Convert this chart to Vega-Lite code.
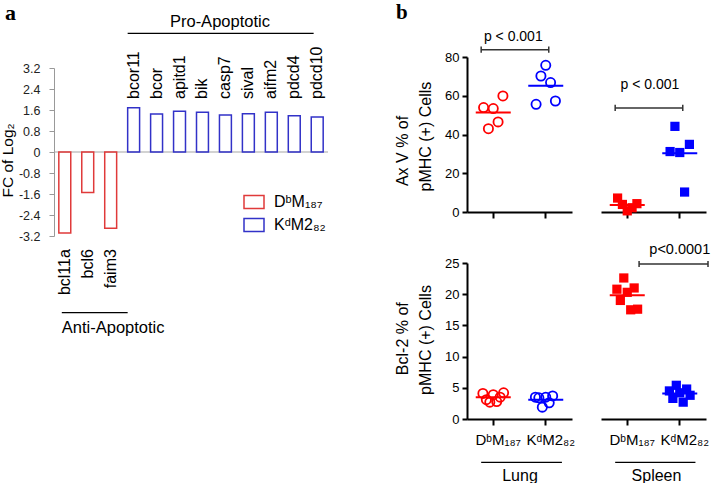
{
  "$schema": "https://vega.github.io/schema/vega-lite/v6.json",
  "background": "white",
  "padding": {"left": 0, "top": 2, "right": 0, "bottom": 0},
  "config": {
    "view": {"stroke": null},
    "axis": {"labelFont": "Liberation Sans", "titleFont": "Liberation Sans", "grid": false, "labelOverlap": false, "labelBound": false, "tickCount": 30},
    "legend": {"labelFont": "Liberation Sans"},
    "text": {"font": "Liberation Sans", "color": "black"}
  },
  "datasets": {
    "genes": [
      {"gene": "bcl11a", "fc": -3.09, "group": "DᵇM₁₈₇"},
      {"gene": "bcl6", "fc": -1.54, "group": "DᵇM₁₈₇"},
      {"gene": "faim3", "fc": -2.9, "group": "DᵇM₁₈₇"},
      {"gene": "bcor11", "fc": 1.69, "group": "KᵈM2₈₂"},
      {"gene": "bcor", "fc": 1.45, "group": "KᵈM2₈₂"},
      {"gene": "apitd1", "fc": 1.55, "group": "KᵈM2₈₂"},
      {"gene": "bik", "fc": 1.51, "group": "KᵈM2₈₂"},
      {"gene": "casp7", "fc": 1.41, "group": "KᵈM2₈₂"},
      {"gene": "sival", "fc": 1.46, "group": "KᵈM2₈₂"},
      {"gene": "aifm2", "fc": 1.51, "group": "KᵈM2₈₂"},
      {"gene": "pdcd4", "fc": 1.38, "group": "KᵈM2₈₂"},
      {"gene": "pdcd10", "fc": 1.33, "group": "KᵈM2₈₂"}
    ],
    "axv": [
      {"tissue": "Lung", "group": "DᵇM₁₈₇", "rep": 1, "value": 53.9},
      {"tissue": "Lung", "group": "DᵇM₁₈₇", "rep": 2, "value": 43.0},
      {"tissue": "Lung", "group": "DᵇM₁₈₇", "rep": 3, "value": 53.4},
      {"tissue": "Lung", "group": "DᵇM₁₈₇", "rep": 4, "value": 46.5},
      {"tissue": "Lung", "group": "DᵇM₁₈₇", "rep": 5, "value": 59.9},
      {"tissue": "Lung", "group": "KᵈM2₈₂", "rep": 1, "value": 55.6},
      {"tissue": "Lung", "group": "KᵈM2₈₂", "rep": 2, "value": 70.2},
      {"tissue": "Lung", "group": "KᵈM2₈₂", "rep": 3, "value": 75.7},
      {"tissue": "Lung", "group": "KᵈM2₈₂", "rep": 4, "value": 66.8},
      {"tissue": "Lung", "group": "KᵈM2₈₂", "rep": 5, "value": 57.3},
      {"tissue": "Spleen", "group": "DᵇM₁₈₇", "rep": 1, "value": 7.2},
      {"tissue": "Spleen", "group": "DᵇM₁₈₇", "rep": 2, "value": 3.9},
      {"tissue": "Spleen", "group": "DᵇM₁₈₇", "rep": 3, "value": 0.6},
      {"tissue": "Spleen", "group": "DᵇM₁₈₇", "rep": 4, "value": 2.2},
      {"tissue": "Spleen", "group": "DᵇM₁₈₇", "rep": 5, "value": 4.3},
      {"tissue": "Spleen", "group": "KᵈM2₈₂", "rep": 1, "value": 31.2},
      {"tissue": "Spleen", "group": "KᵈM2₈₂", "rep": 2, "value": 44.2},
      {"tissue": "Spleen", "group": "KᵈM2₈₂", "rep": 3, "value": 30.7},
      {"tissue": "Spleen", "group": "KᵈM2₈₂", "rep": 4, "value": 10.3},
      {"tissue": "Spleen", "group": "KᵈM2₈₂", "rep": 5, "value": 34.9}
    ],
    "bcl2": [
      {"tissue": "Lung", "group": "DᵇM₁₈₇", "rep": 1, "value": 4.1},
      {"tissue": "Lung", "group": "DᵇM₁₈₇", "rep": 2, "value": 3.1},
      {"tissue": "Lung", "group": "DᵇM₁₈₇", "rep": 3, "value": 2.7},
      {"tissue": "Lung", "group": "DᵇM₁₈₇", "rep": 4, "value": 3.9},
      {"tissue": "Lung", "group": "DᵇM₁₈₇", "rep": 5, "value": 2.8},
      {"tissue": "Lung", "group": "DᵇM₁₈₇", "rep": 6, "value": 3.5},
      {"tissue": "Lung", "group": "DᵇM₁₈₇", "rep": 7, "value": 4.2},
      {"tissue": "Lung", "group": "KᵈM2₈₂", "rep": 1, "value": 3.5},
      {"tissue": "Lung", "group": "KᵈM2₈₂", "rep": 2, "value": 3.4},
      {"tissue": "Lung", "group": "KᵈM2₈₂", "rep": 3, "value": 1.9},
      {"tissue": "Lung", "group": "KᵈM2₈₂", "rep": 4, "value": 3.5},
      {"tissue": "Lung", "group": "KᵈM2₈₂", "rep": 5, "value": 2.6},
      {"tissue": "Lung", "group": "KᵈM2₈₂", "rep": 6, "value": 3.7},
      {"tissue": "Spleen", "group": "DᵇM₁₈₇", "rep": 1, "value": 20.8},
      {"tissue": "Spleen", "group": "DᵇM₁₈₇", "rep": 2, "value": 19.0},
      {"tissue": "Spleen", "group": "DᵇM₁₈₇", "rep": 3, "value": 22.6},
      {"tissue": "Spleen", "group": "DᵇM₁₈₇", "rep": 4, "value": 20.3},
      {"tissue": "Spleen", "group": "DᵇM₁₈₇", "rep": 5, "value": 17.5},
      {"tissue": "Spleen", "group": "DᵇM₁₈₇", "rep": 6, "value": 21.0},
      {"tissue": "Spleen", "group": "DᵇM₁₈₇", "rep": 7, "value": 17.6},
      {"tissue": "Spleen", "group": "KᵈM2₈₂", "rep": 1, "value": 4.5},
      {"tissue": "Spleen", "group": "KᵈM2₈₂", "rep": 2, "value": 3.3},
      {"tissue": "Spleen", "group": "KᵈM2₈₂", "rep": 3, "value": 5.4},
      {"tissue": "Spleen", "group": "KᵈM2₈₂", "rep": 4, "value": 4.2},
      {"tissue": "Spleen", "group": "KᵈM2₈₂", "rep": 5, "value": 2.7},
      {"tissue": "Spleen", "group": "KᵈM2₈₂", "rep": 6, "value": 4.8},
      {"tissue": "Spleen", "group": "KᵈM2₈₂", "rep": 7, "value": 3.8}
    ]
  },
  "bounds": "flush",
  "columns": 3,
  "spacing": {"row": 27, "column": 29},
  "resolve": {"scale": {"x": "independent", "y": "independent", "color": "independent", "xOffset": "independent"}, "legend": {"color": "independent"}},
  "concat": [
    {
      "width": 274,
      "height": 179,
      "layer": [
        {
          "data": {"values": [{}]},
          "mark": {"type": "rule", "color": "#a6a6a6", "strokeWidth": 1.2},
          "encoding": {"y": {"datum": 0, "type": "quantitative"}}
        },
        {
          "data": {"name": "genes"},
          "mark": {"type": "bar", "filled": false, "strokeWidth": 1.5},
          "encoding": {
            "x": {"field": "gene", "type": "nominal", "sort": null,
              "scale": {"domain": ["bcl11a", "bcl6", "faim3", "bcor11", "bcor", "apitd1", "bik", "casp7", "sival", "aifm2", "pdcd4", "pdcd10"], "paddingInner": 0.48, "paddingOuter": 0.21},
              "axis": null},
            "y": {"field": "fc", "type": "quantitative",
              "scale": {"domain": [-3.2, 3.2], "range": [179, 11], "nice": false},
              "axis": {"values": [-3.2, -2.4, -1.6, -0.8, 0, 0.8, 1.6, 2.4, 3.2], "tickCount": 30, "labelOverlap": false,
                "labelExpr": "datum.value == 0 ? '0' : (datum.value < 0 ? '-' : '') + format(abs(datum.value), '.1f')",
                "title": "FC of Log₂", "titleFontSize": 15.5, "titleFontWeight": "normal", "titleColor": "black", "titlePadding": 3, "titleY": 103,
                "labelFontSize": 12.5, "labelColor": "#222222", "labelPadding": 9, "tickSize": 5, "tickColor": "#999999", "domainColor": "#999999"}},
            "color": {"field": "group", "type": "nominal",
              "scale": {"domain": ["DᵇM₁₈₇", "KᵈM2₈₂"], "range": ["#e03a3a", "#3232c8"]},
              "legend": {"orient": "none", "legendX": 189, "legendY": 134, "title": null, "padding": 0,
                "symbolType": "M-1,-0.65L1,-0.65L1,0.65L-1,0.65Z", "symbolSize": 400, "symbolStrokeWidth": 1.5,
                "labelFontSize": 16, "labelOffset": 9, "rowPadding": 2, "labelColor": "black"}}
          }
        },
        {
          "data": {"name": "genes"},
          "transform": [{"filter": "datum.fc > 0"}],
          "mark": {"type": "text", "angle": 270, "align": "left", "baseline": "middle", "fontSize": 16},
          "encoding": {"x": {"field": "gene", "type": "nominal", "sort": null}, "y": {"datum": 2.02, "type": "quantitative"}, "text": {"field": "gene"}}
        },
        {
          "data": {"name": "genes"},
          "transform": [{"filter": "datum.fc < 0"}],
          "mark": {"type": "text", "angle": 270, "align": "right", "baseline": "middle", "fontSize": 16},
          "encoding": {"x": {"field": "gene", "type": "nominal", "sort": null}, "y": {"datum": -3.7, "type": "quantitative"}, "text": {"field": "gene"}}
        },
        {
          "data": {"values": [{}]},
          "mark": {"type": "rule", "color": "black", "strokeWidth": 1.2},
          "encoding": {"x": {"datum": "bcor11", "type": "nominal", "bandPosition": 0}, "x2": {"datum": "pdcd10", "bandPosition": 0.2}, "y": {"datum": 4.52, "type": "quantitative"}}
        },
        {
          "data": {"values": [{"label": "Pro-Apoptotic"}]},
          "mark": {"type": "text", "align": "center", "baseline": "alphabetic", "fontSize": 16.5},
          "encoding": {"x": {"datum": "casp7", "type": "nominal", "bandPosition": 0.04}, "y": {"datum": 4.76, "type": "quantitative"}, "text": {"field": "label"}}
        },
        {
          "data": {"values": [{}]},
          "mark": {"type": "rule", "color": "black", "strokeWidth": 1.2},
          "encoding": {"x": {"datum": "bcl11a", "type": "nominal", "bandPosition": 0.25}, "x2": {"datum": "bcor11", "bandPosition": 0}, "y": {"datum": -6.12, "type": "quantitative"}}
        },
        {
          "data": {"values": [{"label": "Anti-Apoptotic"}]},
          "mark": {"type": "text", "align": "left", "baseline": "alphabetic", "fontSize": 16.5},
          "encoding": {"x": {"datum": "bcl11a", "type": "nominal", "bandPosition": 0.25}, "y": {"datum": -6.91, "type": "quantitative"}, "text": {"field": "label"}}
        },
        {
          "data": {"values": [{"label": "a"}]},
          "mark": {"type": "text", "align": "left", "baseline": "alphabetic", "fontSize": 22, "font": "Liberation Serif", "fontWeight": "bold"},
          "encoding": {"x": {"datum": "bcl11a", "type": "nominal", "bandPosition": -4.51}, "y": {"datum": 5.024, "type": "quantitative"}, "text": {"field": "label"}}
        }
      ]
    },
    {
      "width": 105,
      "height": 155,
      "layer": [
        {
          "data": {"name": "axv"},
          "transform": [{"filter": "datum.tissue == 'Lung'"}],
          "mark": {"type": "point", "shape": "circle", "filled": false, "size": 85, "strokeWidth": 1.8, "opacity": 1},
          "encoding": {
            "x": {"field": "group", "type": "nominal", "scale": {"domain": ["DᵇM₁₈₇", "KᵈM2₈₂"], "paddingInner": 0.54, "paddingOuter": 0.27},
              "axis": {"labels": false, "title": null, "domainColor": "black", "domainWidth": 2, "tickColor": "black", "tickWidth": 2, "tickSize": 6}},
            "xOffset": {"field": "rep", "type": "ordinal"},
            "y": {"field": "value", "type": "quantitative", "scale": {"domain": [0, 80], "nice": false},
              "axis": {"values": [0, 20, 40, 60, 80], "tickCount": 30, "title": null,
                "labelFontSize": 13, "labelColor": "black", "labelPadding": 3, "tickSize": 5, "tickWidth": 2, "tickColor": "black", "domainColor": "black", "domainWidth": 2}},
            "color": {"field": "group", "type": "nominal", "scale": {"domain": ["DᵇM₁₈₇", "KᵈM2₈₂"], "range": ["#ff0000", "#0000ff"]}, "legend": null}
          }
        },
        {
          "data": {"name": "axv"},
          "transform": [{"filter": "datum.tissue == 'Lung'"}],
          "mark": {"type": "tick", "size": 35, "thickness": 2, "opacity": 1},
          "encoding": {
            "x": {"field": "group", "type": "nominal"},
            "y": {"aggregate": "mean", "field": "value", "type": "quantitative"},
            "color": {"field": "group", "type": "nominal"}
          }
        },
        {
          "data": {"values": [{"label": "Ax V % of"}]},
          "mark": {"type": "text", "angle": 270, "align": "center", "baseline": "middle", "fontSize": 16},
          "encoding": {"x": {"datum": "DᵇM₁₈₇", "type": "nominal", "bandPosition": -3.24}, "y": {"datum": 31.5, "type": "quantitative"}, "text": {"field": "label"}}
        },
        {
          "data": {"values": [{"label": "pMHC (+) Cells"}]},
          "mark": {"type": "text", "angle": 270, "align": "center", "baseline": "middle", "fontSize": 16},
          "encoding": {"x": {"datum": "DᵇM₁₈₇", "type": "nominal", "bandPosition": -2.29}, "y": {"datum": 38.9, "type": "quantitative"}, "text": {"field": "label"}}
        },
        {
          "data": {"values": [{}]},
          "mark": {"type": "rule", "color": "#333333", "strokeWidth": 1.5},
          "encoding": {"x": {"datum": "DᵇM₁₈₇", "type": "nominal", "bandPosition": 0}, "x2": {"datum": "KᵈM2₈₂", "bandPosition": 0.625}, "y": {"datum": 83.8, "type": "quantitative"}}
        },
        {
          "data": {"values": [{}]},
          "mark": {"type": "rule", "color": "#333333", "strokeWidth": 1.5},
          "encoding": {"x": {"datum": "DᵇM₁₈₇", "type": "nominal", "bandPosition": 0}, "y": {"datum": 82.2, "type": "quantitative"}, "y2": {"datum": 85.4}}
        },
        {
          "data": {"values": [{}]},
          "mark": {"type": "rule", "color": "#333333", "strokeWidth": 1.5},
          "encoding": {"x": {"datum": "KᵈM2₈₂", "type": "nominal", "bandPosition": 0.625}, "y": {"datum": 82.2, "type": "quantitative"}, "y2": {"datum": 85.4}}
        },
        {
          "data": {"values": [{"label": "p < 0.001"}]},
          "mark": {"type": "text", "align": "center", "baseline": "alphabetic", "fontSize": 14},
          "encoding": {"x": {"datum": "DᵇM₁₈₇", "type": "nominal", "bandPosition": 1.33}, "y": {"datum": 88.3, "type": "quantitative"}, "text": {"field": "label"}}
        },
        {
          "data": {"values": [{"label": "b"}]},
          "mark": {"type": "text", "align": "left", "baseline": "alphabetic", "fontSize": 21, "font": "Liberation Serif", "fontWeight": "bold"},
          "encoding": {"x": {"datum": "DᵇM₁₈₇", "type": "nominal", "bandPosition": -3.53}, "y": {"datum": 99.47, "type": "quantitative"}, "text": {"field": "label"}}
        }
      ]
    },
    {
      "width": 105,
      "height": 155,
      "layer": [
        {
          "data": {"name": "axv"},
          "transform": [{"filter": "datum.tissue == 'Spleen'"}],
          "mark": {"type": "point", "shape": "square", "filled": true, "size": 85, "opacity": 1},
          "encoding": {
            "x": {"field": "group", "type": "nominal", "scale": {"domain": ["DᵇM₁₈₇", "KᵈM2₈₂"], "paddingInner": 0.54, "paddingOuter": 0.27},
              "axis": {"labels": false, "title": null, "domainColor": "black", "domainWidth": 2, "tickColor": "black", "tickWidth": 2, "tickSize": 6}},
            "xOffset": {"field": "rep", "type": "ordinal"},
            "y": {"field": "value", "type": "quantitative", "scale": {"domain": [0, 80], "nice": false}, "axis": null},
            "color": {"field": "group", "type": "nominal", "scale": {"domain": ["DᵇM₁₈₇", "KᵈM2₈₂"], "range": ["#ff0000", "#0000ff"]}, "legend": null}
          }
        },
        {
          "data": {"name": "axv"},
          "transform": [{"filter": "datum.tissue == 'Spleen'"}],
          "mark": {"type": "tick", "size": 35, "thickness": 2, "opacity": 1},
          "encoding": {
            "x": {"field": "group", "type": "nominal"},
            "y": {"aggregate": "mean", "field": "value", "type": "quantitative"},
            "color": {"field": "group", "type": "nominal"}
          }
        },
        {
          "data": {"values": [{}]},
          "mark": {"type": "rule", "color": "#333333", "strokeWidth": 1.5},
          "encoding": {"x": {"datum": "DᵇM₁₈₇", "type": "nominal", "bandPosition": 0}, "x2": {"datum": "KᵈM2₈₂", "bandPosition": 0.625}, "y": {"datum": 53.7, "type": "quantitative"}}
        },
        {
          "data": {"values": [{}]},
          "mark": {"type": "rule", "color": "#333333", "strokeWidth": 1.5},
          "encoding": {"x": {"datum": "DᵇM₁₈₇", "type": "nominal", "bandPosition": 0}, "y": {"datum": 52.1, "type": "quantitative"}, "y2": {"datum": 55.3}}
        },
        {
          "data": {"values": [{}]},
          "mark": {"type": "rule", "color": "#333333", "strokeWidth": 1.5},
          "encoding": {"x": {"datum": "KᵈM2₈₂", "type": "nominal", "bandPosition": 0.625}, "y": {"datum": 52.1, "type": "quantitative"}, "y2": {"datum": 55.3}}
        },
        {
          "data": {"values": [{"label": "p < 0.001"}]},
          "mark": {"type": "text", "align": "center", "baseline": "alphabetic", "fontSize": 14},
          "encoding": {"x": {"datum": "DᵇM₁₈₇", "type": "nominal", "bandPosition": 1.44}, "y": {"datum": 63.7, "type": "quantitative"}, "text": {"field": "label"}}
        }
      ]
    },
    {
      "width": 384,
      "height": 1,
      "data": {"values": []},
      "mark": {"type": "point", "opacity": 0},
      "encoding": {}
    },
    {
      "width": 105,
      "height": 156,
      "layer": [
        {
          "data": {"name": "bcl2"},
          "transform": [{"filter": "datum.tissue == 'Lung'"}],
          "mark": {"type": "point", "shape": "circle", "filled": false, "size": 85, "strokeWidth": 1.8, "opacity": 1},
          "encoding": {
            "x": {"field": "group", "type": "nominal", "scale": {"domain": ["DᵇM₁₈₇", "KᵈM2₈₂"], "paddingInner": 0.54, "paddingOuter": 0.27},
              "axis": {"labelFontSize": 15, "labelColor": "black", "labelAngle": 0, "labelOffset": 5, "labelPadding": 7, "labelOverlap": false,
                "title": "Lung", "titleFontSize": 16, "titleFontWeight": "normal", "titleColor": "black", "titlePadding": 20,
                "domainColor": "black", "domainWidth": 2, "tickColor": "black", "tickWidth": 2, "tickSize": 6}},
            "xOffset": {"field": "rep", "type": "ordinal"},
            "y": {"field": "value", "type": "quantitative", "scale": {"domain": [0, 25], "nice": false},
              "axis": {"values": [0, 5, 10, 15, 20, 25], "tickCount": 30, "title": null,
                "labelFontSize": 13, "labelColor": "black", "labelPadding": 3, "tickSize": 5, "tickWidth": 2, "tickColor": "black", "domainColor": "black", "domainWidth": 2}},
            "color": {"field": "group", "type": "nominal", "scale": {"domain": ["DᵇM₁₈₇", "KᵈM2₈₂"], "range": ["#ff0000", "#0000ff"]}, "legend": null}
          }
        },
        {
          "data": {"name": "bcl2"},
          "transform": [{"filter": "datum.tissue == 'Lung'"}],
          "mark": {"type": "tick", "size": 35, "thickness": 2, "opacity": 1},
          "encoding": {
            "x": {"field": "group", "type": "nominal"},
            "y": {"aggregate": "mean", "field": "value", "type": "quantitative"},
            "color": {"field": "group", "type": "nominal"}
          }
        },
        {
          "data": {"values": [{"label": "Bcl-2 % of"}]},
          "mark": {"type": "text", "angle": 270, "align": "center", "baseline": "middle", "fontSize": 16},
          "encoding": {"x": {"datum": "DᵇM₁₈₇", "type": "nominal", "bandPosition": -3.24}, "y": {"datum": 12.87, "type": "quantitative"}, "text": {"field": "label"}}
        },
        {
          "data": {"values": [{"label": "pMHC (+)  Cells"}]},
          "mark": {"type": "text", "angle": 270, "align": "center", "baseline": "middle", "fontSize": 16},
          "encoding": {"x": {"datum": "DᵇM₁₈₇", "type": "nominal", "bandPosition": -2.29}, "y": {"datum": 12.66, "type": "quantitative"}, "text": {"field": "label"}}
        },
        {
          "data": {"values": [{}]},
          "mark": {"type": "rule", "color": "black", "strokeWidth": 1.2},
          "encoding": {"x": {"datum": "DᵇM₁₈₇", "type": "nominal", "bandPosition": 0}, "x2": {"datum": "KᵈM2₈₂", "bandPosition": 1.17}, "y": {"datum": -6.94, "type": "quantitative"}}
        }
      ]
    },
    {
      "width": 105,
      "height": 156,
      "layer": [
        {
          "data": {"name": "bcl2"},
          "transform": [{"filter": "datum.tissue == 'Spleen'"}],
          "mark": {"type": "point", "shape": "square", "filled": true, "size": 85, "opacity": 1},
          "encoding": {
            "x": {"field": "group", "type": "nominal", "scale": {"domain": ["DᵇM₁₈₇", "KᵈM2₈₂"], "paddingInner": 0.54, "paddingOuter": 0.27},
              "axis": {"labelFontSize": 15, "labelColor": "black", "labelAngle": 0, "labelOffset": 5, "labelPadding": 7, "labelOverlap": false,
                "title": "Spleen", "titleFontSize": 16, "titleFontWeight": "normal", "titleColor": "black", "titlePadding": 20, "titleX": 55,
                "domainColor": "black", "domainWidth": 2, "tickColor": "black", "tickWidth": 2, "tickSize": 6}},
            "xOffset": {"field": "rep", "type": "ordinal"},
            "y": {"field": "value", "type": "quantitative", "scale": {"domain": [0, 25], "nice": false}, "axis": null},
            "color": {"field": "group", "type": "nominal", "scale": {"domain": ["DᵇM₁₈₇", "KᵈM2₈₂"], "range": ["#ff0000", "#0000ff"]}, "legend": null}
          }
        },
        {
          "data": {"name": "bcl2"},
          "transform": [{"filter": "datum.tissue == 'Spleen'"}],
          "mark": {"type": "tick", "size": 35, "thickness": 2, "opacity": 1},
          "encoding": {
            "x": {"field": "group", "type": "nominal"},
            "y": {"aggregate": "mean", "field": "value", "type": "quantitative"},
            "color": {"field": "group", "type": "nominal"}
          }
        },
        {
          "data": {"values": [{}]},
          "mark": {"type": "rule", "color": "black", "strokeWidth": 1.2},
          "encoding": {"x": {"datum": "DᵇM₁₈₇", "type": "nominal", "bandPosition": 0}, "x2": {"datum": "KᵈM2₈₂", "bandPosition": 1.15}, "y": {"datum": -6.94, "type": "quantitative"}}
        },
        {
          "data": {"values": [{}]},
          "mark": {"type": "rule", "color": "#333333", "strokeWidth": 1.5},
          "encoding": {"x": {"datum": "DᵇM₁₈₇", "type": "nominal", "bandPosition": 0.99}, "x2": {"datum": "KᵈM2₈₂", "bandPosition": 1.67}, "y": {"datum": 24.84, "type": "quantitative"}}
        },
        {
          "data": {"values": [{}]},
          "mark": {"type": "rule", "color": "#333333", "strokeWidth": 1.5},
          "encoding": {"x": {"datum": "DᵇM₁₈₇", "type": "nominal", "bandPosition": 0.99}, "y": {"datum": 24.36, "type": "quantitative"}, "y2": {"datum": 25.32}}
        },
        {
          "data": {"values": [{}]},
          "mark": {"type": "rule", "color": "#333333", "strokeWidth": 1.5},
          "encoding": {"x": {"datum": "KᵈM2₈₂", "type": "nominal", "bandPosition": 1.67}, "y": {"datum": 24.36, "type": "quantitative"}, "y2": {"datum": 25.32}}
        },
        {
          "data": {"values": [{"label": "p<0.0001"}]},
          "mark": {"type": "text", "align": "center", "baseline": "alphabetic", "fontSize": 14.5},
          "encoding": {"x": {"datum": "KᵈM2₈₂", "type": "nominal", "bandPosition": 0.5}, "y": {"datum": 26.5, "type": "quantitative"}, "text": {"field": "label"}}
        }
      ]
    }
  ]
}
